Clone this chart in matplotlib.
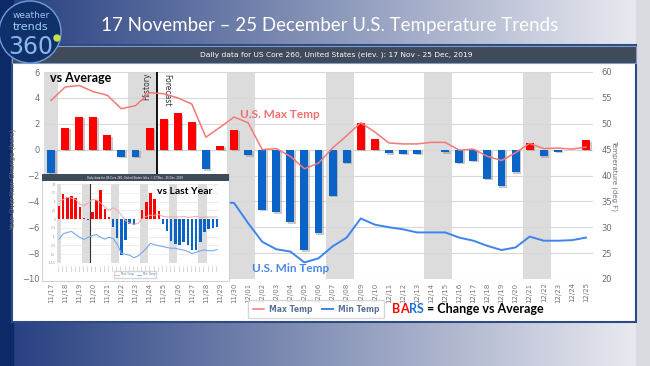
import numpy as np
import matplotlib
matplotlib.use('Agg')
import matplotlib.pyplot as plt
from matplotlib.patches import Rectangle, Circle
from matplotlib.lines import Line2D
import matplotlib.patheffects as pe

# ---- data ----
dates = ['11/17', '11/18', '11/19', '11/20', '11/21', '11/22', '11/23', '11/24',
         '11/25', '11/26', '11/27', '11/28', '11/29', '11/30', '12/01', '12/02',
         '12/03', '12/04', '12/05', '12/06', '12/07', '12/08', '12/09', '12/10',
         '12/11', '12/12', '12/13', '12/14', '12/15', '12/16', '12/17', '12/18',
         '12/19', '12/20', '12/21', '12/22', '12/23', '12/24', '12/25']
weekends = ['11/17', '11/23', '11/24', '11/30', '12/01', '12/07', '12/08',
            '12/14', '12/15', '12/21', '12/22']

# change vs average (bars, left axis)
vs_avg = [-1.8, 1.7, 2.55, 2.55, 1.1, -0.55, -0.55, 1.7, 2.4, 2.8, 2.1, -1.5, 0.3,
          1.55, -0.45, -4.65, -4.85, -5.6, -7.75, -6.45, -3.55, -1.0, 2.05, 0.8,
          -0.25, -0.3, -0.3, 0.0, -0.2, -1.0, -0.85, -2.25, -2.85, -1.75, 0.5,
          -0.5, -0.15, 0.0, 0.75]
# temperatures (deg F, right axis)
max_temp = [54.5, 57.1, 57.4, 56.2, 55.5, 52.9, 53.5, 56.0, 55.8, 55.0, 53.8, 47.4,
            49.3, 51.3, 50.2, 45.0, 45.2, 43.7, 41.3, 42.4, 45.3, 47.7, 50.2, 48.4,
            46.3, 46.1, 46.1, 46.4, 46.4, 44.9, 45.1, 43.7, 42.9, 44.4, 46.2, 45.2,
            45.3, 45.1, 45.5]
nan = float('nan')
min_temp = [nan, nan, nan, nan, nan, nan, nan, nan, nan, nan, nan, nan,
            34.8, 34.7, 30.8, 27.2, 25.75, 25.3, 23.2, 24.0, 26.3, 28.0, 31.7, 30.5,
            30.0, 29.6, 29.0, 29.0, 29.0, 28.0, 27.4, 26.4, 25.6, 26.1, 28.2, 27.4,
            27.4, 27.5, 28.0]

# inset "vs Last Year" (its own left-axis units)
yoy = [3.75, 7.1, 6.3, 6.5, 5.9, 3.5, 0.2, -0.2, 2.1, 5.4, 8.4, 3.0, 0.5, -2.2,
       -5.5, -10.2, -5.9, -1.5, -1.6, 0.0, 2.5, 5.0, 7.3, 5.6, 2.2, -1.3, -3.3,
       -6.2, -7.1, -7.3, -6.6, -7.3, -8.8, -8.8, -6.6, -3.8, -2.8, -2.6, -2.3]
yoy_max = [4.9, 5.6, 6.2, 6.0, 5.6, 4.2, 3.9, 4.6, 5.6, 5.4, 4.6, 3.5, 2.5, 3.2,
           2.5, 1.1, -0.4, -1.2, -1.5, -1.2, 0.1, 0.8, 1.1, 1.1, 1.3, 0.8, 0.6,
           0.6, 0.6, 0.6, 0.8, 0.5, 0.6, 0.8, 0.5, 0.6, 0.6, 0.6, 0.6]
yoy_min = [-5.7, -4.2, -3.8, -3.5, -4.4, -5.2, -5.8, -5.2, -4.7, -4.4, -5.2, -5.7,
           -5.2, -5.5, -7.1, -9.8, -10.0, -10.3, -11.0, -10.5, -9.5, -8.3, -6.9,
           -7.3, -7.6, -7.8, -8.1, -8.3, -8.3, -8.6, -8.8, -9.2, -9.8, -9.5, -9.0,
           -8.8, -9.0, -9.0, -8.7]
yoy_ticks = [10, 7.5, 5, 2.5, 0, -2.5, -5, -7.5, -10, -12.5]

RED = '#ff0000'
BLUE = '#0a64c8'
W, H = 650, 366


def rect(x0, y0, x1, y1):
    # pixel box -> figure fraction
    return [x0 / W, 1 - y1 / H, (x1 - x0) / W, (y1 - y0) / H]


def pixel_axes(z):
    a = fig.add_axes([0, 0, 1, 1], zorder=z)
    a.set_xlim(0, W)
    a.set_ylim(H, 0)
    a.axis('off')
    a.patch.set_visible(False)
    return a


fig = plt.figure(figsize=(6.5, 3.66), dpi=100)
x = np.arange(len(dates))

# ---- background frame ----
bg = fig.add_axes([0, 0, 1, 1], zorder=0)
t = np.linspace(0, 1, 400)[:, None]
c0 = np.array([0.14, 0.24, 0.50])
c1 = np.array([0.93, 0.93, 0.95])
grad = (c0 * (1 - t) + c1 * t)[None, :, :]
bg.imshow(grad, extent=[0, W, H, 0], aspect='auto', interpolation='bicubic')
bg.set_xlim(0, W)
bg.set_ylim(H, 0)
bg.axis('off')
bg.add_patch(Rectangle((0, 0), 13, H, color='#0c2a68'))
bg.add_patch(Rectangle((636, 0), 14, H, color='#dadbe0'))
bg.add_patch(Rectangle((12, 45), 624, 277, facecolor='white', edgecolor='#2d4a82', lw=1.5))
bg.add_patch(Rectangle((12, 46), 624, 17, facecolor='#3f4a5b', edgecolor='#7d9cc8', lw=0.8))
bg.text(336, 55, 'Daily data for US Core 260, United States (elev. ): 17 Nov - 25 Dec, 2019',
        color='white', fontsize=5.4, ha='center', va='center')
bg.text(330, 25, '17 November \u2013 25 December U.S. Temperature Trends', color='white',
        fontsize=13.5, family='Lato', ha='center', va='center')

# ---- main chart ----
ax = fig.add_axes(rect(44, 72, 593, 279), zorder=1)
ax.set_facecolor('white')
for d in weekends:
    i = dates.index(d)
    ax.axvspan(i - 0.5, i + 0.5, color='#dcdcdc', lw=0, zorder=0)
ax.set_xlim(-0.5, len(dates) - 0.5)
ax.set_ylim(-10, 6)
ax.set_yticks(range(-10, 7, 2))
ax.grid(axis='y', color='#d8d8d8', lw=0.8, zorder=0.5)
ax.set_axisbelow(True)
bars = ax.bar(x, vs_avg, width=0.56, color=[RED if v > 0 else BLUE for v in vs_avg], zorder=2)
for b in bars:
    b.set_path_effects([pe.SimplePatchShadow(offset=(1.2, -1.2), shadow_rgbFace='#888888', alpha=0.45),
                        pe.Normal()])
ax.axvline(7.5, color='black', lw=1.3, zorder=3)
ax.set_xticks(x)
ax.set_xticklabels(dates, rotation=90, fontsize=5, color='#777777')
ax.tick_params(axis='x', length=0, pad=2.5)
ax.tick_params(axis='y', length=0, pad=3, labelsize=6, labelcolor='#6f6f6f')
for s in ax.spines.values():
    s.set_visible(False)
ax.set_ylabel('Year-Over-Year Change (bars)', fontsize=5, color='#707070')
ax.yaxis.set_label_coords(-0.051, 0.48)
ax.text(7.1, 5.95, 'History', rotation=90, fontsize=5.5, color='#333333', ha='right', va='top')
ax.text(7.9, 5.85, 'Forecast', rotation=270, fontsize=5.5, color='#333333', ha='left', va='top')

ax2 = ax.twinx()
ax2.set_ylim(20, 60)
ax2.set_yticks(range(20, 61, 5))
l_max, = ax2.plot(x, max_temp, color='#f47878', lw=1.1, zorder=4)
l_min, = ax2.plot(x, min_temp, color='#3c84ee', lw=1.4, zorder=4)
ax2.tick_params(axis='y', length=0, pad=6, labelsize=6, labelcolor='#6a6a78')
for s in ax2.spines.values():
    s.set_visible(False)
ax2.set_ylabel('Temperature (deg F)', rotation=270, fontsize=5, color='#6a7080')
ax2.yaxis.set_label_coords(1.044, 0.5)

# ---- inset "vs Last Year" ----
ib = pixel_axes(2)
ib.add_patch(Rectangle((42, 174), 187, 107, facecolor='white', edgecolor='#c8c8c8', lw=0.6))
ib.add_patch(Rectangle((42, 174), 187, 7, facecolor='#3f4a5b', lw=0))
ib.text(135, 177.5, 'Daily data for US Core 260, United States (elev. ): 17 Nov - 25 Dec, 2019',
        color='white', fontsize=1.9, ha='center', va='center')

ins = fig.add_axes(rect(57, 184, 219, 263), zorder=3)
for d in weekends:
    i = dates.index(d)
    ins.axvspan(i - 0.5, i + 0.5, color='#dcdcdc', lw=0, zorder=0)
ins.set_xlim(-0.5, len(dates) - 0.5)
ins.set_ylim(-12.5, 10)
ins.set_yticks(yoy_ticks)
ins.set_yticklabels([f'{v:g}' for v in yoy_ticks])
ins.grid(axis='y', color='#e2e2e2', lw=0.4)
ins.set_axisbelow(True)
ins.bar(x, yoy, width=0.6, color=[RED if v > 0 else BLUE for v in yoy], zorder=2)
ins.axvline(7.5, color='#333333', lw=0.8, zorder=3)
ins.plot(x, yoy_max, color='#f7a4a4', lw=0.7, zorder=4)
ins.plot(x, yoy_min, color='#78a8f4', lw=0.8, zorder=4)
ins.set_xticks(x)
ins.set_xticklabels(dates, rotation=90, fontsize=1.7, color='#888888')
ins.tick_params(length=0, pad=1, labelsize=1.9, labelcolor='#888888')
ins.tick_params(axis='x', labelsize=1.7)
for s in ins.spines.values():
    s.set_visible(False)
ins.legend([Line2D([], [], color='#f7a4a4', lw=0.6), Line2D([], [], color='#78a8f4', lw=0.6)],
           ['Max Temp', 'Min Temp'], ncol=2, loc='center',
           bbox_to_anchor=(135 / W, 1 - 274.5 / H), bbox_transform=fig.transFigure,
           fontsize=1.9, handlelength=1.5, frameon=True, edgecolor='#cccccc',
           borderpad=0.4, columnspacing=1.0, labelcolor='#6080a8')

# ---- overlay labels ----
ov = pixel_axes(4)
ov.text(50, 78, 'vs Average', fontsize=9, weight='bold', family='Lato', va='center')
ov.text(157, 191, 'vs Last Year', fontsize=7.5, weight='bold', family='Lato', va='center')
ov.text(240, 115, 'U.S. Max Temp', fontsize=8.5, weight='bold', family='Lato',
        color='#f07070', va='center')
ov.text(252, 269, 'U.S. Min Temp', fontsize=8.5, weight='bold', family='Lato',
        color='#4a86e8', va='center')

prev = ov.text(392, 309, 'B', fontsize=9, weight='bold', family='Lato', color=RED, va='center')
for piece, col in [('A', RED), ('R', '#1a6fd8'), ('S', '#1a6fd8'), (' = Change vs Average', 'black')]:
    prev = ov.annotate(piece, xy=(1, 0), xycoords=prev, va='bottom', fontsize=9,
                       weight='bold', family='Lato', color=col)

ov.legend([l_max, l_min], ['Max Temp', 'Min Temp'], ncol=2, loc='center',
          bbox_to_anchor=(316 / W, 1 - 309 / H), bbox_transform=fig.transFigure,
          prop={'size': 5.5, 'weight': 'bold'}, labelcolor='#5a7396', handlelength=1.5,
          handletextpad=0.6, columnspacing=1.2, frameon=True, edgecolor='#cccccc',
          borderpad=0.6)

# logo
ov.add_patch(Circle((30, 32), 31, facecolor='#10306c', edgecolor='#6f9fd8', lw=1))
ov.text(31, 15, 'weather', color='#9cc3ee', fontsize=6.5, ha='center', va='center')
ov.text(31, 27, 'trends', color='#9cd2ec', fontsize=8, ha='center', va='center')
ov.text(31, 47, '360', color='#8ab8ea', fontsize=17, ha='center', va='center')
ov.add_patch(Circle((57, 38), 3, color='#c6e04a'))

fig.savefig('out.png', dpi=100)
